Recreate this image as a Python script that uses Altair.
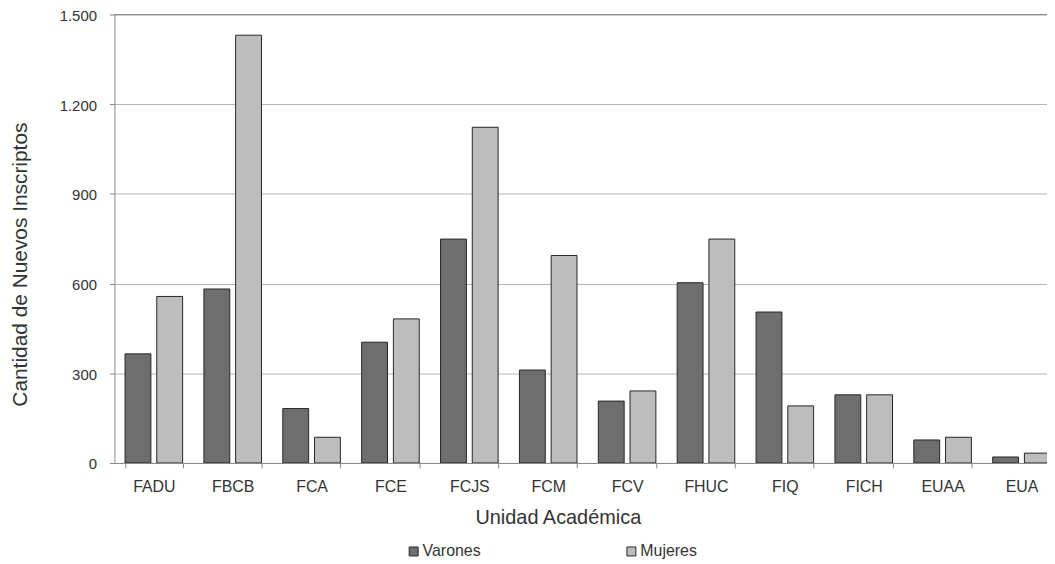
import altair as alt
import pandas as pd

categorias = ["FADU", "FBCB", "FCA", "FCE", "FCJS", "FCM", "FCV", "FHUC", "FIQ", "FICH", "EUAA", "EUA"]
varones = [365, 582, 182, 404, 749, 311, 207, 603, 505, 228, 77, 20]
mujeres = [557, 1431, 86, 482, 1123, 694, 241, 749, 191, 228, 86, 33]
series = ["Varones", "Mujeres"]
colores = ["#6e6e6e", "#bdbdbd"]
y_ticks = [0, 300, 600, 900, 1200, 1500]

rows = []
for c, v, m in zip(categorias, varones, mujeres):
    rows.append({"cat": c, "serie": "Varones", "val": v})
    rows.append({"cat": c, "serie": "Mujeres", "val": m})
df = pd.DataFrame(rows)

FONT = "Liberation Sans"
TXT = "#333333"
AX = "#888888"

bars = alt.Chart(df).mark_bar(stroke="#262626", strokeWidth=1, clip=True).encode(
    x=alt.X(
        "cat:N",
        sort=categorias,
        scale=alt.Scale(range=[0, 952], paddingInner=0.27, paddingOuter=0.135),
        axis=alt.Axis(
            title="Unidad Académica",
            labelAngle=0,
            tickBand="extent",
            tickSize=5,
            tickColor=AX,
            domainColor=AX,
            labelFont=FONT,
            labelFontSize=16,
            labelColor=TXT,
            labelPadding=11,
            titleFont=FONT,
            titleFontSize=20,
            titleFontWeight="normal",
            titleColor=TXT,
            titleX=446,
            titleY=61,
            titleAlign="center",
            titleBaseline="alphabetic",
        ),
    ),
    xOffset=alt.XOffset(
        "serie:N", sort=series, scale=alt.Scale(paddingInner=0.185, paddingOuter=0)
    ),
    y=alt.Y(
        "val:Q",
        scale=alt.Scale(domain=[0, 1500], nice=False),
        axis=alt.Axis(
            values=y_ticks,
            labelExpr="replace(format(datum.value, ','), ',', '.')",
            tickSize=5,
            tickColor=AX,
            domainColor=AX,
            grid=True,
            gridColor="#b4b4b4",
            labelFont=FONT,
            labelFontSize=15,
            labelColor=TXT,
            labelPadding=13,
            labelOffset=1,
            title="Cantidad de Nuevos Inscriptos",
            titleFont=FONT,
            titleFontSize=21,
            titleFontWeight="normal",
            titleColor=TXT,
            titleAngle=-90,
            titleX=-88,
            titleY=251,
            titleAlign="center",
            titleBaseline="alphabetic",
        ),
    ),
    color=alt.Color(
        "serie:N",
        sort=series,
        scale=alt.Scale(domain=series, range=colores),
        legend=alt.Legend(
            title=None,
            orient="none",
            legendX=293,
            legendY=532,
            direction="horizontal",
            symbolType="square",
            symbolSize=81,
            symbolStrokeColor="#262626",
            symbolStrokeWidth=1,
            labelFont=FONT,
            labelFontSize=16,
            labelColor=TXT,
            labelOffset=1,
            columnPadding=143,
        ),
    ),
)

border = alt.Chart(pd.DataFrame({"a": [0]})).mark_rule(color="#858585", strokeWidth=1).encode(
    y=alt.value(0)
)

chart = (
    alt.layer(bars, border)
    .properties(
        width=938,
        height=451,
        autosize=alt.AutoSizeParams(type="none"),
        padding={"left": 107, "top": 5, "right": 0, "bottom": 100},
    )
    .configure_view(stroke=None)
)

chart.save("out.html", embed_options={"renderer": "svg", "actions": False})
